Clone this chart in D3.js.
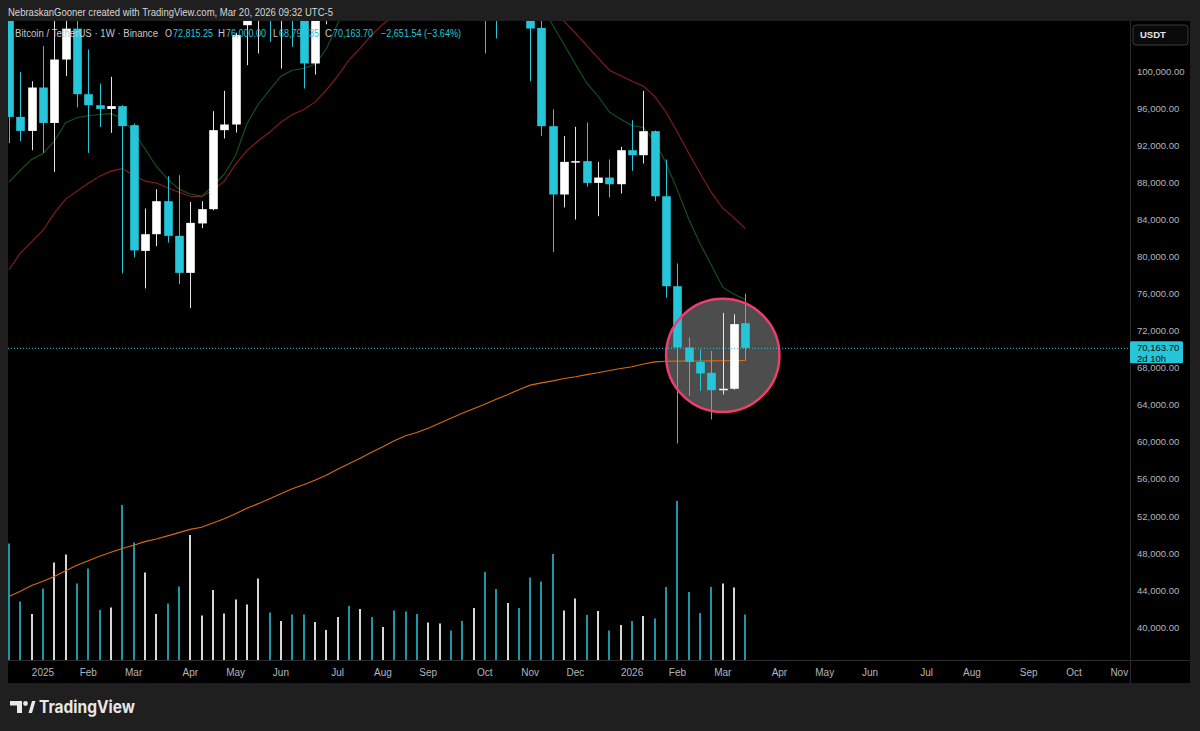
<!DOCTYPE html>
<html lang="en">
<head>
<meta charset="UTF-8">
<title>BTCUSDT 1W</title>
<script src="https://cdn.jsdelivr.net/npm/d3@7"></script>
<style>
	body { margin: 0; background: #1f1f1f; }
	svg { display: block; font-family: "Liberation Sans", Arial, sans-serif; }
	.axis-label { fill: #b4b6bc; font-size: 9.5px; }
	.time-label { fill: #b4b6bc; font-size: 10px; text-anchor: middle; }
	.legend { font-size: 10px; }
</style>
</head>
<body>
<script>
// weekly candles, first bar = week of Dec 16 2024
var firstWeek = "2024-12-16";
var lastAxisWeek = "2026-11-02";

var opens = [106200, 95070, 93560, 98240, 94420, 101260, 104590, 97520, 96330, 95930,
	96230, 94180, 80620, 82420, 85980, 82240, 78250, 83580, 85120, 93640,
	94250, 104960, 106450, 109000, 105650, 105750, 105600, 100830, 108350, 109200,
	119000, 117300, 119400, 114200, 119300, 117400, 113500, 108250, 111150, 115250,
	115200, 112200, 123500, 115100, 108600, 114500, 110500, 104670, 94070, 86700,
	90220, 90300, 87950, 88530, 87810, 91480, 90940, 93530, 86510, 76810,
	70200, 68650, 67470, 65600, 65750, 72815.25];
var highs = [108350, 99920, 98920, 102700, 106420, 109590, 106460, 102340, 98670, 99390,
	96330, 94360, 85190, 87270, 88680, 88780, 85900, 85980, 95690, 97880,
	104150, 107100, 111980, 110700, 106800, 110500, 108950, 108500, 110500, 119500,
	123200, 120250, 119800, 119300, 124470, 117600, 113600, 113400, 116750, 117900,
	115400, 125700, 126200, 115900, 116000, 116400, 110700, 107500, 95900, 93000,
	94000, 94470, 90220, 90480, 91840, 94710, 97880, 93600, 90480, 79260,
	71280, 69980, 69830, 73930, 73790, 76000];
var lows = [92240, 92480, 91480, 91190, 89140, 99460, 96090, 91190, 93990, 93350,
	78210, 79930, 76570, 81130, 81520, 77030, 74440, 83060, 85000, 92740,
	93380, 100650, 101910, 103160, 100290, 102620, 98130, 99640, 105070, 107460,
	115700, 114700, 112000, 112650, 116800, 110600, 107300, 107250, 110600, 114400,
	108650, 111000, 101910, 103530, 106600, 106300, 98920, 93000, 80510, 85300,
	84000, 87530, 84360, 86380, 86810, 89250, 90040, 85980, 75590, 59850,
	64950, 65520, 62430, 65130, 65650, 68795.35];
var closes = [95070, 93560, 98240, 94420, 101260, 104590, 97520, 96330, 95930, 96230,
	94080, 80670, 82420, 85980, 82240, 78250, 83640, 85120, 93640, 94250,
	103900, 106450, 108950, 105800, 105750, 105600, 100830, 108350, 109200, 119000,
	117300, 119400, 114200, 119300, 117400, 113500, 108250, 111150, 115250, 115200,
	112200, 123500, 115100, 108600, 114500, 110500, 104600, 94070, 86700, 90220,
	90300, 87950, 88530, 87810, 91480, 90940, 93530, 86510, 76810, 70200,
	68650, 67400, 65600, 65750, 72720, 70163.70];
// volume, thousand BTC
var volumes = [233, 117, 92, 143, 195, 211, 153, 183, 100, 105,
	310, 235, 175, 92, 113, 147, 250, 89, 140, 93,
	121, 111, 163, 95, 78, 91, 91, 76, 60, 86,
	108, 102, 86, 66, 99, 97, 92, 75, 73, 59,
	78, 104, 176, 142, 114, 104, 165, 157, 212, 99,
	123, 90, 98, 59, 70, 78, 88, 83, 146, 318,
	136, 94, 146, 153, 145, 91];
var maFast = [88030, 89320, 90480, 91120, 92470, 94450, 94980, 95200, 95330, 95420,
	94930, 93420, 91640, 89750, 88350, 87270, 86760, 86520, 87600, 88890,
	90940, 94300, 96440, 97950, 99460, 100110, 100290, 100750, 102370, 105120,
	107600, 109000, 110500, 111800, 113200, 114600, 115300, 115500, 115400, 115100,
	114300, 114700, 115200, 114600, 114300, 114100, 109800, 107200, 104960, 102860,
	100750, 98710, 97300, 95580, 94820, 94120, 93930, 92450, 90080, 87170,
	84040, 81400, 79080, 76700, 75950, 75360];
var maSlow = [78590, 80370, 81610, 82850, 84690, 86200, 87060, 87920, 88680, 89220,
	89490, 88750, 88140, 87950, 87440, 86950, 86520, 86470, 87170, 88140,
	89970, 91430, 92500, 93420, 94500, 95340, 95850, 96660, 97950, 99460,
	101190, 102480, 103880, 105070, 106000, 106900, 107600, 108300, 109200, 110200,
	111100, 111900, 112500, 112900, 113000, 112600, 111200, 108600, 106700, 105390,
	104100, 102750, 101400, 100110, 99510, 98920, 98380, 97250, 95580, 93420,
	91160, 89000, 86900, 85220, 84180, 83010];
var maLong = [43350, 43920, 44530, 45000, 45510, 46130, 46720, 47210, 47690, 48120,
	48530, 48880, 49260, 49550, 49880, 50230, 50580, 50820, 51270, 51740,
	52280, 52870, 53360, 53890, 54430, 54970, 55400, 55890, 56430, 57080,
	57670, 58260, 58910, 59500, 60150, 60690, 61030, 61500, 62040, 62580,
	63120, 63600, 64090, 64630, 65110, 65650, 66140, 66380, 66600, 66860,
	67050, 67270, 67480, 67720, 67940, 68130, 68420, 68650, 68720, 68730,
	68740, 68750, 68760, 68770, 68780, 68790];

var priceTicks = [40000, 44000, 48000, 52000, 56000, 60000, 64000, 68000, 72000,
	76000, 80000, 84000, 88000, 92000, 96000, 100000];
var timeTickWeeks = ["2025-01-06", "2025-02-03", "2025-03-03", "2025-04-07", "2025-05-05", "2025-06-02",
	"2025-07-07", "2025-08-04", "2025-09-01", "2025-10-06", "2025-11-03", "2025-12-01",
	"2026-01-05", "2026-02-02", "2026-03-02", "2026-04-06", "2026-05-04", "2026-06-01",
	"2026-07-06", "2026-08-03", "2026-09-07", "2026-10-05", "2026-11-02"];
var timeTickLabels = ["2025", "Feb", "Mar", "Apr", "May", "Jun", "Jul", "Aug", "Sep", "Oct", "Nov", "Dec",
	"2026", "Feb", "Mar", "Apr", "May", "Jun", "Jul", "Aug", "Sep", "Oct", "Nov"];

// circle drawing: centre week/price, edge week
var ringCenterWeek = "2026-03-02", ringCenterPrice = 69350, ringEdgeWeek = "2026-04-06";

var lastPrice = 70163.70;
var headerText = "NebraskanGooner created with TradingView.com, Mar 20, 2026 09:32 UTC-5";
var symbolText = "Bitcoin / TetherUS · 1W · Binance";
var ohlcLetters = ["O", "H", "L", "C"];
var ohlcValues = ["72,815.25", "76,000.00", "68,795.35", "70,163.70"];
var changeText = "−2,651.54 (−3.64%)";

window.onload = function () {
	var width = 1200, height = 731;
	var plot = {left: 8, top: 21, right: 1127, bottom: 660};
	var parse = d3.utcParse("%Y-%m-%d");
	var start = parse(firstWeek);

	var data = opens.map(function (o, i) {
		return {date: d3.utcMonday.offset(start, i), o: o, h: highs[i], l: lows[i], c: closes[i],
			v: volumes[i], up: closes[i] >= o};
	});

	var x = d3.scaleUtc()
		.domain([start, parse(lastAxisWeek)])
		.range([9, 1119.3]);
	var y = d3.scaleLinear()
		.domain([40000, 100000])
		.range([627.5, 71.2]);
	var yVol = d3.scaleLinear()
		.domain([0, 400])
		.range([plot.bottom, plot.bottom - 200]);

	var svg = d3.select("body").append("svg")
		.attr("width", width)
		.attr("height", height);

	svg.append("rect").attr("width", width).attr("height", height).attr("fill", "#1f1f1f");
	svg.append("rect")
		.attr("x", plot.left).attr("y", plot.top)
		.attr("width", 1190 - plot.left).attr("height", 683 - plot.top)
		.attr("fill", "#000");
	svg.append("line")
		.attr("x1", 1130.5).attr("x2", 1130.5).attr("y1", plot.top).attr("y2", 683)
		.attr("stroke", "#2b2b2b");
	svg.append("line")
		.attr("x1", plot.left).attr("x2", 1190).attr("y1", 660.5).attr("y2", 660.5)
		.attr("stroke", "#2b2b2b");

	svg.append("clipPath").attr("id", "plotclip")
		.append("rect")
		.attr("x", plot.left).attr("y", plot.top)
		.attr("width", plot.right - plot.left + 3).attr("height", plot.bottom - plot.top);

	var g = svg.append("g").attr("clip-path", "url(#plotclip)");

	// ring fill under the series
	var rc = {x: x(parse(ringCenterWeek)), y: y(ringCenterPrice)};
	var rr = x(parse(ringEdgeWeek)) - rc.x;
	g.append("circle")
		.attr("cx", rc.x).attr("cy", rc.y).attr("r", rr)
		.attr("fill", "#4d4d4d");

	// volume
	g.selectAll(".vol")
		.data(data)
		.enter().append("rect")
		.attr("class", "vol")
		.attr("x", function (d) { return Math.round(x(d.date)) - 1; })
		.attr("width", 2)
		.attr("y", function (d) { return yVol(d.v); })
		.attr("height", function (d) { return plot.bottom - yVol(d.v); })
		.attr("fill", function (d) { return d.up ? "#d6d6d6" : "#1c97a8"; });

	// moving averages
	function maLine(values, color) {
		var line = d3.line()
			.x(function (d, i) { return x(data[i].date); })
			.y(function (d) { return y(d); });
		g.append("path")
			.datum(values)
			.attr("d", line)
			.attr("fill", "none")
			.attr("stroke", color)
			.attr("stroke-width", 1.1);
	}
	maLine(maLong, "#d66b14");
	maLine(maSlow, "#8c1c1c");
	maLine(maFast, "#16561c");

	// candles
	var bw = 8.6;
	var candle = g.selectAll(".candle")
		.data(data)
		.enter().append("g")
		.attr("class", "candle");
	candle.append("line")
		.attr("x1", function (d) { return Math.round(x(d.date)) + 0.5; })
		.attr("x2", function (d) { return Math.round(x(d.date)) + 0.5; })
		.attr("y1", function (d) { return y(d.h); })
		.attr("y2", function (d) { return y(d.l); })
		.attr("stroke", function (d) { return d.up ? "#e4e4e4" : "#26c6da"; });
	candle.append("rect")
		.attr("x", function (d) { return Math.round(x(d.date)) + 0.5 - bw / 2; })
		.attr("width", bw)
		.attr("y", function (d) { return y(Math.max(d.o, d.c)); })
		.attr("height", function (d) { return Math.max(1.5, Math.abs(y(d.o) - y(d.c))); })
		.attr("fill", function (d) { return d.up ? "#ffffff" : "#26c6da"; });

	// last price line
	var yp = y(lastPrice);
	svg.append("line")
		.attr("x1", plot.left).attr("x2", 1130).attr("y1", yp + 0.5).attr("y2", yp + 0.5)
		.attr("stroke", "#26c6da").attr("stroke-width", 1).attr("stroke-dasharray", "1,2");

	// ring outline on top
	g.append("circle")
		.attr("cx", rc.x).attr("cy", rc.y).attr("r", rr)
		.attr("fill", "none")
		.attr("stroke", "#f03c6e")
		.attr("stroke-width", 2.5);

	// price axis
	svg.selectAll(".axis-label")
		.data(priceTicks)
		.enter().append("text")
		.attr("class", "axis-label")
		.attr("x", 1137)
		.attr("y", function (d) { return y(d); })
		.attr("dy", "0.35em")
		.text(d3.format(",.2f"));

	var tag = svg.append("g");
	tag.append("rect")
		.attr("x", 1130).attr("y", yp - 6.5).attr("width", 53).attr("height", 22)
		.attr("rx", 1.5)
		.attr("fill", "#26c6da");
	tag.append("text")
		.attr("x", 1137).attr("y", yp).attr("dy", "0.35em")
		.attr("font-size", "9.5px").attr("fill", "#0a0a0a")
		.text(d3.format(",.2f")(lastPrice));
	tag.append("text")
		.attr("x", 1137).attr("y", yp + 11).attr("dy", "0.35em")
		.attr("font-size", "9.5px").attr("fill", "#0a0a0a")
		.text("2d 10h");

	// USDT button
	svg.append("rect")
		.attr("x", 1133).attr("y", 25).attr("width", 55).attr("height", 20).attr("rx", 3)
		.attr("fill", "#0a0a0a").attr("stroke", "#3a3a3a");
	svg.append("text")
		.attr("x", 1140).attr("y", 35).attr("dy", "0.35em")
		.attr("font-size", "9.5px").attr("font-weight", "bold").attr("fill", "#e6e6e6")
		.text("USDT");

	// time axis
	svg.selectAll(".time-label")
		.data(timeTickWeeks)
		.enter().append("text")
		.attr("class", "time-label")
		.attr("x", function (d) { return x(parse(d)); })
		.attr("y", 672)
		.attr("dy", "0.35em")
		.text(function (d, i) { return timeTickLabels[i]; });
	svg.append("rect")
		.attr("x", 1131).attr("y", 661).attr("width", 59).attr("height", 22).attr("fill", "#000");

	// header
	svg.append("text")
		.attr("x", 8).attr("y", 12).attr("dy", "0.35em")
		.attr("font-size", "10.5px").attr("fill", "#d6d6d6")
		.attr("textLength", 325).attr("lengthAdjust", "spacingAndGlyphs")
		.text(headerText);

	// legend, one text line made of positioned spans
	var legend = svg.append("text")
		.attr("class", "legend")
		.attr("y", 33.5).attr("dy", "0.35em");
	var parts = [[15, symbolText, "#c8c8c8", 143]];
	var ohlcX = [165, 218, 273, 325];
	ohlcLetters.forEach(function (letter, i) {
		parts.push([ohlcX[i], letter, "#c8c8c8", letter === "L" ? 5 : 7]);
		parts.push([ohlcX[i] + (letter === "L" ? 6 : 8), ohlcValues[i], "#26c6da", 40]);
	});
	parts.push([381, changeText, "#26c6da", 80]);
	parts.forEach(function (p) {
		legend.append("tspan")
			.attr("x", p[0])
			.attr("fill", p[2])
			.attr("textLength", p[3]).attr("lengthAdjust", "spacingAndGlyphs")
			.text(p[1]);
	});

	// TradingView logo
	var logo = svg.append("g").attr("fill", "#e8e8e8");
	logo.append("path").attr("d", "M10,701 H22 V713 H17 V705.5 H10 Z");
	logo.append("circle").attr("cx", 25.5).attr("cy", 703.5).attr("r", 2.4);
	logo.append("path").attr("d", "M28.5,713 L32,701 H35.5 L32,713 Z");
	svg.append("text")
		.attr("x", 39).attr("y", 707).attr("dy", "0.35em")
		.attr("font-family", "Inter, 'Open Sans', sans-serif")
		.attr("font-size", "17px").attr("font-weight", "bold").attr("fill", "#e8e8e8")
		.attr("textLength", 96).attr("lengthAdjust", "spacingAndGlyphs")
		.text("TradingView");
};
</script>
</body>
</html>
